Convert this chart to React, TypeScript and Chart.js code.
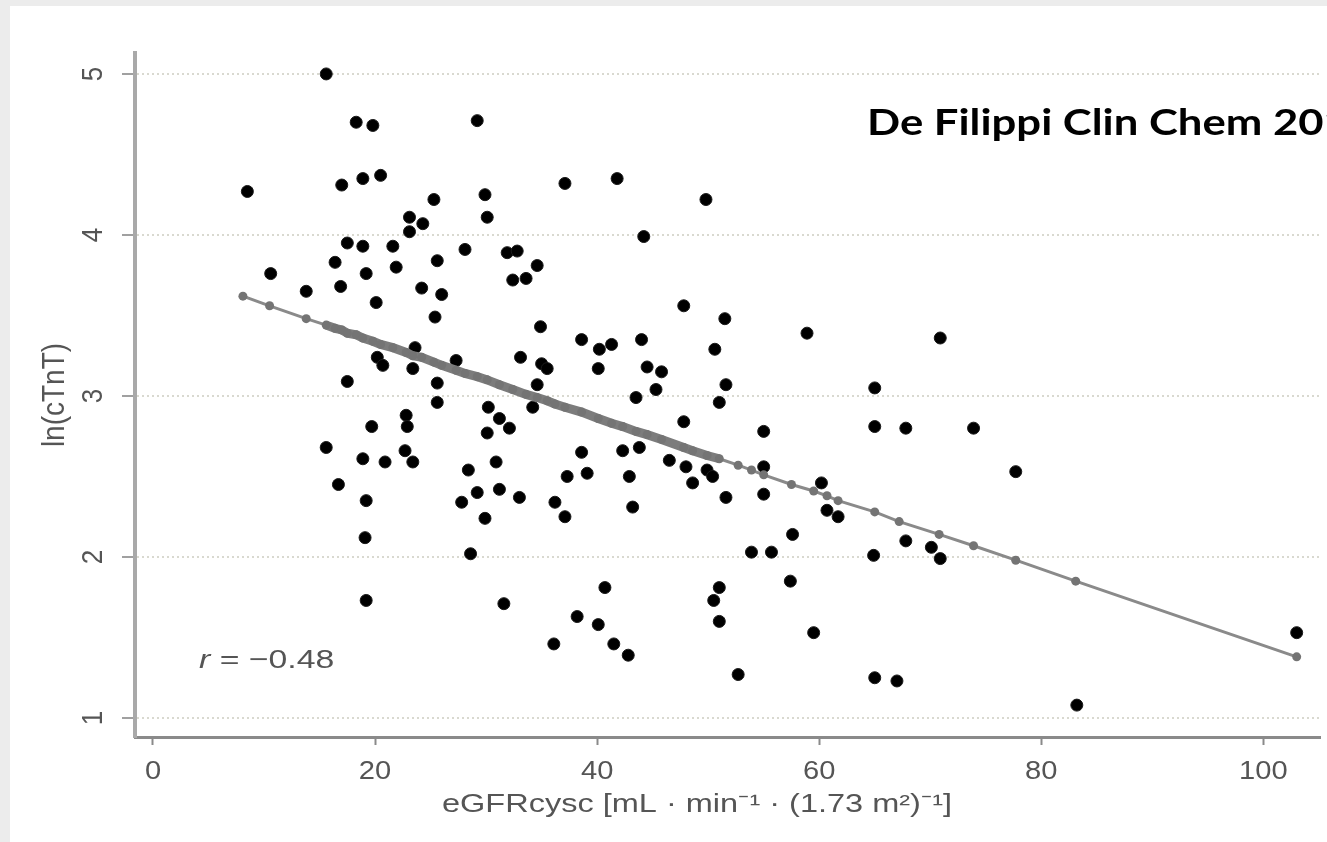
import React, { useEffect, useRef } from 'react';
import { Chart, registerables } from 'chart.js';

Chart.register(...registerables);

// ---- data ----
const eGFR = [
  15.6, 8.5, 18.3, 19.8, 29.2, 17.0, 18.9, 20.5, 25.3, 23.1,
  24.3, 23.1, 17.5, 18.9, 21.6, 28.1, 16.4, 19.2, 21.9, 25.6,
  10.6, 13.8, 16.9, 24.2, 26.0, 20.1, 25.4, 37.1, 41.8, 49.8,
  29.9, 30.1, 44.2, 31.9, 32.8, 34.6, 32.4, 33.6, 47.8, 51.5,
  34.9, 38.6, 40.2, 41.3, 44.0, 50.6, 33.1, 35.0, 35.5, 40.1,
  44.5, 45.8, 51.6, 43.5, 45.3, 25.6, 27.3, 34.6, 51.0, 34.2,
  30.2, 31.2, 32.1, 30.1, 47.8, 55.0, 38.6, 42.3, 43.8, 46.5,
  48.0, 49.9, 50.4, 48.6, 51.6, 55.0, 55.0, 28.4, 30.9, 27.8,
  29.2, 31.2, 33.0, 29.9, 37.3, 39.1, 42.9, 36.2, 37.1, 43.2,
  28.6, 53.9, 55.7, 40.7, 31.6, 38.2, 40.1, 36.1, 41.5, 42.8,
  51.0, 50.5, 51.0, 52.7, 58.9, 70.9, 65.0, 65.0, 67.8, 73.9,
  77.7, 60.2, 60.7, 61.7, 57.6, 64.9, 67.8, 70.1, 70.9, 57.4,
  59.5, 65.0, 67.0, 103.0, 83.2, 23.6, 20.2, 20.7, 23.4, 17.5,
  25.6, 22.8, 22.9, 19.7, 15.6, 18.9, 20.9, 22.7, 23.4, 16.7,
  19.2, 19.1, 19.2,
];
const lnTnT = [
  5.00, 4.27, 4.70, 4.68, 4.71, 4.31, 4.35, 4.37, 4.22, 4.11,
  4.07, 4.02, 3.95, 3.93, 3.93, 3.91, 3.83, 3.76, 3.80, 3.84,
  3.76, 3.65, 3.68, 3.67, 3.63, 3.58, 3.49, 4.32, 4.35, 4.22,
  4.25, 4.11, 3.99, 3.89, 3.90, 3.81, 3.72, 3.73, 3.56, 3.48,
  3.43, 3.35, 3.29, 3.32, 3.35, 3.29, 3.24, 3.20, 3.17, 3.17,
  3.18, 3.15, 3.07, 2.99, 3.04, 3.08, 3.22, 3.07, 2.96, 2.93,
  2.93, 2.86, 2.80, 2.77, 2.84, 2.78, 2.65, 2.66, 2.68, 2.60,
  2.56, 2.54, 2.50, 2.46, 2.37, 2.56, 2.39, 2.54, 2.59, 2.34,
  2.40, 2.42, 2.37, 2.24, 2.50, 2.52, 2.50, 2.34, 2.25, 2.31,
  2.02, 2.03, 2.03, 1.81, 1.71, 1.63, 1.58, 1.46, 1.46, 1.39,
  1.81, 1.73, 1.60, 1.27, 3.39, 3.36, 3.05, 2.81, 2.80, 2.80,
  2.53, 2.46, 2.29, 2.25, 2.14, 2.01, 2.10, 2.06, 1.99, 1.85,
  1.53, 1.25, 1.23, 1.53, 1.08, 3.30, 3.24, 3.19, 3.17, 3.09,
  2.96, 2.88, 2.81, 2.81, 2.68, 2.61, 2.59, 2.66, 2.59, 2.45,
  2.35, 2.12, 1.73,
];

// fitted regression line (gray markers along it)
const fitEGFR = [
  8.1, 10.5, 13.8, 15.6, 16.4, 17.0, 17.5, 18.3, 18.9, 19.8,
  20.5, 21.6, 22.8, 23.4, 24.2, 25.3, 26.0, 27.3, 28.1, 29.2,
  30.1, 31.2, 32.4, 33.6, 34.6, 35.5, 36.2, 37.1, 38.6, 40.1,
  41.3, 42.3, 43.5, 44.5, 45.8, 47.8, 48.6, 49.9, 51.0, 52.7,
  53.9, 55.0, 57.5, 59.5, 60.7, 61.7, 65.0, 67.2, 70.8, 73.9,
  77.7, 83.1, 103.0,
];
const fitLnTnT = [
  3.62, 3.56, 3.48, 3.44, 3.42, 3.41, 3.39, 3.38, 3.36, 3.34,
  3.32, 3.30, 3.27, 3.25, 3.24, 3.21, 3.19, 3.16, 3.14, 3.12,
  3.10, 3.07, 3.04, 3.01, 2.99, 2.97, 2.95, 2.93, 2.90, 2.86,
  2.83, 2.81, 2.78, 2.76, 2.73, 2.68, 2.66, 2.63, 2.61, 2.57,
  2.54, 2.51, 2.45, 2.41, 2.38, 2.35, 2.28, 2.22, 2.14, 2.07,
  1.98, 1.85, 1.38,
];
// eGFR range where the fitted markers overlap into a thick band
const denseFitRange = [15, 52];

const xTicks = [0, 20, 40, 60, 80, 100];
const yTicks = [1, 2, 3, 4, 5];
const xTitle = 'eGFRcysc [mL · min⁻¹ · (1.73 m²)⁻¹]';
const yTitle = 'ln(cTnT)';
const rValue = '−0.48';
const sourceNote = 'De Filippi Clin Chem 2012';

const SANS = '"Liberation Sans", Arial, sans-serif';

function stretchedText(
  ctx: CanvasRenderingContext2D,
  text: string,
  x: number,
  y: number,
  sx: number,
) {
  ctx.save();
  ctx.translate(x, y);
  ctx.scale(sx, 1);
  ctx.fillText(text, 0, 0);
  ctx.restore();
}

const textPlugin = {
  id: 'customTexts',
  afterDraw(chart: any) {
    const ctx = chart.ctx as CanvasRenderingContext2D;
    const xs = chart.scales.x;
    const ys = chart.scales.y;
    const area = chart.chartArea;
    ctx.save();
    ctx.fillStyle = '#555555';
    ctx.font = '26px ' + SANS;
    ctx.textAlign = 'center';
    ctx.textBaseline = 'middle';
    // rotated y tick labels
    yTicks.forEach((v) => {
      const py = ys.getPixelForValue(v);
      ctx.save();
      ctx.translate(84, py);
      ctx.rotate(-Math.PI / 2);
      ctx.scale(1, 1.15);
      ctx.fillText(String(v), 0, 0);
      ctx.restore();
    });
    // x tick labels
    xTicks.forEach((v) => {
      const px = xs.getPixelForValue(v);
      stretchedText(ctx, String(v), px, 766, 1.12);
    });
    // y title
    ctx.save();
    ctx.translate(45, (area.top + area.bottom) / 2);
    ctx.rotate(-Math.PI / 2);
    ctx.font = '28px ' + SANS;
    ctx.scale(1, 1.15);
    ctx.fillText(yTitle, 0, 0);
    ctx.restore();
    // x title
    ctx.font = '26px ' + SANS;
    stretchedText(ctx, xTitle, 687, 799, 1.25);
    // r annotation
    ctx.textAlign = 'left';
    ctx.save();
    ctx.translate(189, 655);
    ctx.scale(1.3, 1);
    ctx.font = 'italic 26px ' + SANS;
    ctx.fillText('r', 0, 0);
    const rw = ctx.measureText('r').width;
    ctx.font = '26px ' + SANS;
    ctx.fillText(' = ' + rValue, rw, 0);
    ctx.restore();
    // source note
    ctx.fillStyle = '#000000';
    ctx.font = 'bold 37px Lato, "Open Sans", sans-serif';
    ctx.textBaseline = 'alphabetic';
    stretchedText(ctx, sourceNote, 857, 129, 1.18);
    ctx.restore();
  },
};

export default function App() {
  const canvasRef = useRef<HTMLCanvasElement | null>(null);

  useEffect(() => {
    const canvas = canvasRef.current;
    if (!canvas) return;
    const points = eGFR.map((x, i) => ({ x, y: lnTnT[i] }));
    const fit = fitEGFR.map((x, i) => ({ x, y: fitLnTnT[i] }));
    const inDense = (v: number) => v >= denseFitRange[0] && v <= denseFitRange[1];
    const chart = new Chart(canvas, {
      type: 'scatter',
      data: {
        datasets: [
          {
            label: 'fit',
            data: fit,
            showLine: true,
            borderColor: '#8a8a8a',
            borderWidth: 3,
            segment: {
              borderWidth: (c: any) =>
                inDense(c.p0.parsed.x) && inDense(c.p1.parsed.x) ? 9 : 3,
              borderColor: (c: any) =>
                inDense(c.p0.parsed.x) && inDense(c.p1.parsed.x) ? '#7c7c7c' : '#8a8a8a',
            },
            pointRadius: 4.5,
            pointBackgroundColor: '#747474',
            pointBorderWidth: 0,
          },
          {
            label: 'ln(cTnT)',
            data: points,
            pointRadius: 6,
            pointBackgroundColor: '#000000',
            pointBorderColor: '#1a1a1a',
            pointBorderWidth: 1,
          },
        ],
      },
      options: {
        responsive: false,
        animation: false,
        events: [],
        layout: { padding: { top: 47, right: 5, left: 0, bottom: 0 } },
        plugins: { legend: { display: false }, tooltip: { enabled: false } },
        scales: {
          x: {
            type: 'linear',
            min: -1.62,
            max: 105.1,
            afterBuildTicks: (s: any) => {
              s.ticks = xTicks.map((v) => ({ value: v }));
            },
            afterFit: (s: any) => {
              s.height = 105;
            },
            ticks: { display: false },
            grid: {
              drawOnChartArea: false,
              drawTicks: true,
              tickLength: 8,
              tickColor: '#8a8a8a',
              tickWidth: 2,
            },
            border: { display: true, color: '#8a8a8a', width: 3 },
          },
          y: {
            type: 'linear',
            min: 0.882,
            max: 5.13,
            afterBuildTicks: (s: any) => {
              s.ticks = yTicks.map((v) => ({ value: v }));
            },
            afterFit: (s: any) => {
              s.width = 125;
            },
            ticks: { display: false },
            grid: {
              color: '#d9d9d0',
              lineWidth: 2,
              drawTicks: true,
              tickLength: 13,
              tickColor: '#a0a0a0',
              tickWidth: 2,
              tickBorderDash: [],
            },
            border: { display: true, color: '#a9a9a9', width: 4, dash: [2, 3] },
          },
        },
      },
      plugins: [textPlugin],
    } as any);
    return () => chart.destroy();
  }, []);

  return (
    <div
      style={{
        position: 'fixed',
        left: 0,
        top: 0,
        width: 1327,
        height: 842,
        background: '#ececec',
        overflow: 'hidden',
      }}
    >
      <div
        style={{
          position: 'absolute',
          left: 10,
          top: 6,
          width: 1317,
          height: 836,
          background: '#ffffff',
        }}
      >
        <canvas ref={canvasRef} width={1317} height={836} style={{ display: 'block' }} />
      </div>
    </div>
  );
}
